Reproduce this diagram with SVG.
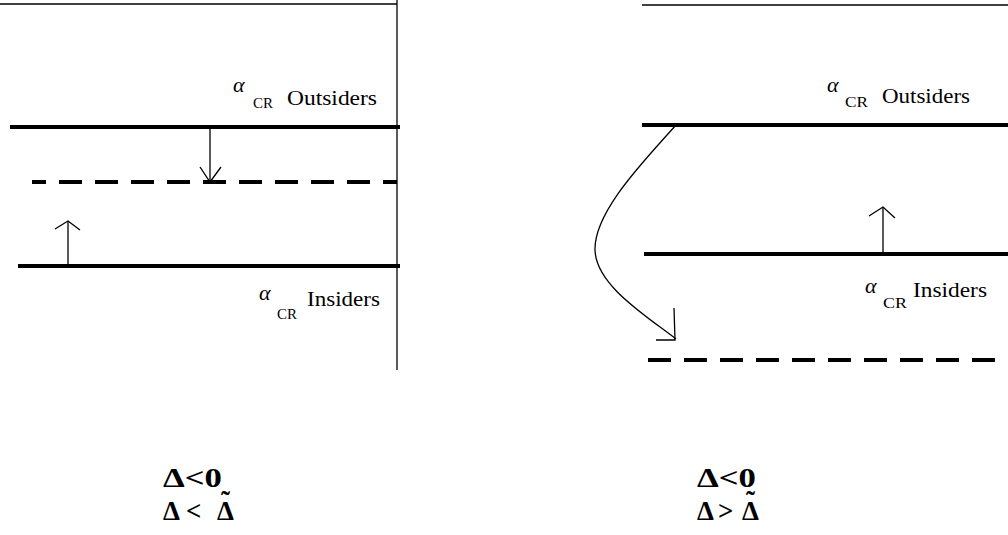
<svg xmlns="http://www.w3.org/2000/svg" width="1008" height="535" viewBox="0 0 1008 535">
<style>
.thin{stroke:#000;stroke-width:1.3;fill:none}
.thick{stroke:#000;stroke-width:4;fill:none}
.dash{stroke:#000;stroke-width:4;fill:none;stroke-dasharray:23 13}
.arr{stroke:#000;stroke-width:1.3;fill:none}
.lbl{font-size:21px}
.al{font-style:italic;font-size:22px}
.sub{font-size:15px}
.big{font-weight:bold;font-size:27px}
</style>
<rect width="1008" height="535" fill="#fff"/>
<g id="left-panel">
<line class="thin" x1="0" y1="4" x2="397" y2="4"/>
<line class="thin" x1="397" y1="0" x2="397" y2="370"/>
</g>
<g font-family="Liberation Serif, Times New Roman, serif" fill="#000">
<g id="left-outsiders">
<line class="thick" x1="10" y1="127" x2="400" y2="127"/>
<text class="al" x="233" y="92">α</text>
<text class="sub" x="253" y="108" textLength="20" lengthAdjust="spacingAndGlyphs">CR</text>
<text class="lbl" x="287" y="105" textLength="90" lengthAdjust="spacingAndGlyphs">Outsiders</text>
</g>
<g id="left-dashed">
<line class="dash" x1="32" y1="182" x2="397" y2="182" stroke-dashoffset="9"/>
</g>
<g id="left-insiders">
<line class="thick" x1="18" y1="266" x2="400" y2="266"/>
<text class="al" x="259" y="300">α</text>
<text class="sub" x="277" y="319" textLength="20" lengthAdjust="spacingAndGlyphs">CR</text>
<text class="lbl" x="307" y="306" textLength="73" lengthAdjust="spacingAndGlyphs">Insiders</text>
</g>
<g id="right-panel">
<line class="thin" x1="642" y1="5" x2="1008" y2="5"/>
</g>
<g id="right-outsiders">
<line class="thick" x1="642" y1="125" x2="1008" y2="125"/>
<text class="al" x="827" y="92">α</text>
<text class="sub" x="845" y="107" textLength="23" lengthAdjust="spacingAndGlyphs">CR</text>
<text class="lbl" x="882" y="103" textLength="88" lengthAdjust="spacingAndGlyphs">Outsiders</text>
</g>
<g id="right-insiders">
<line class="thick" x1="644" y1="254" x2="1008" y2="254"/>
<text class="al" x="865" y="293">α</text>
<text class="sub" x="883" y="308" textLength="24" lengthAdjust="spacingAndGlyphs">CR</text>
<text class="lbl" x="913" y="297" textLength="74" lengthAdjust="spacingAndGlyphs">Insiders</text>
</g>
<g id="right-dashed">
<line class="dash" x1="648" y1="360" x2="1008" y2="360"/>
</g>
<g id="left-caption">
<text class="big" x="163" y="487" textLength="59" lengthAdjust="spacingAndGlyphs">Δ&lt;0</text>
<text class="big" x="163" y="520">Δ</text>
<text class="big" x="186" y="520">&lt;</text>
<text class="big" x="217" y="520">Δ</text>
<text class="big" x="221" y="510" font-size="22">˜</text>
</g>
<g id="right-caption">
<text class="big" x="697" y="487" textLength="59" lengthAdjust="spacingAndGlyphs">Δ&lt;0</text>
<text class="big" x="697" y="520">Δ</text>
<text class="big" x="718" y="520">&gt;</text>
<text class="big" x="742" y="520">Δ</text>
<text class="big" x="746" y="510" font-size="22">˜</text>
</g>
</g>
<g id="connectors">
<line class="arr" x1="210" y1="127" x2="210" y2="182"/>
<polyline class="arr" points="200,167 210,182 221,167"/>
<line class="arr" x1="68" y1="266" x2="68" y2="221"/>
<polyline class="arr" points="55,229 68,221 80,230"/>
<line class="arr" x1="883" y1="254" x2="883" y2="207"/>
<polyline class="arr" points="869,216 883,207 895,218"/>
<path class="arr" d="M676,125 C643,162 594,212 595,250 C596,285 645,315 676,339"/>
<polyline class="arr" points="674,308 675,340 656,340"/>
</g>
</svg>
